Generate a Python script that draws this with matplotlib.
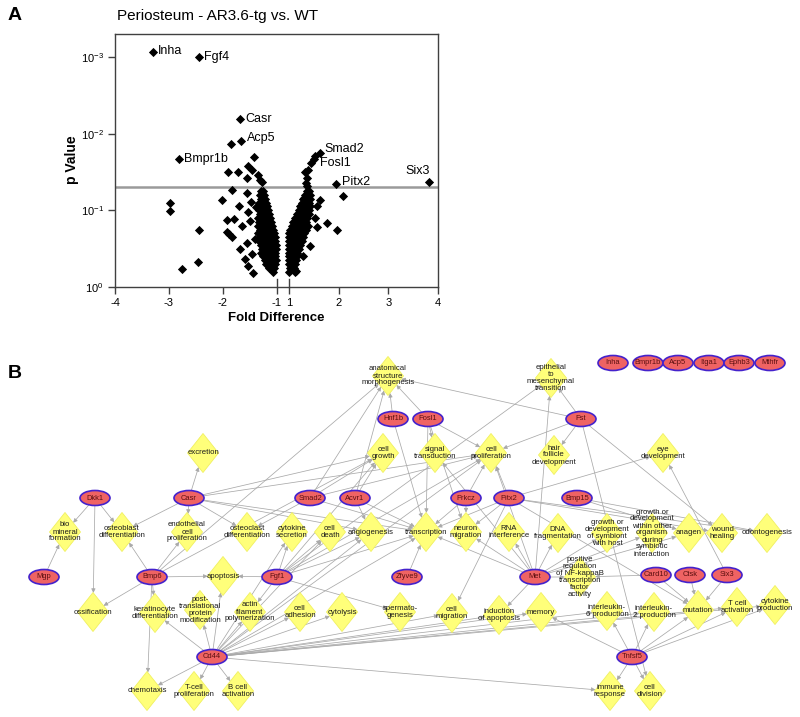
import numpy as np
import matplotlib
matplotlib.use("Agg")
import matplotlib.pyplot as plt
from matplotlib.patches import Ellipse, Polygon, FancyArrowPatch
from matplotlib.ticker import LogFormatterSciNotation, NullLocator

plt.rcParams['font.family'] = ['Liberation Sans', 'DejaVu Sans']
plt.rcParams['mathtext.fontset'] = 'custom'
plt.rcParams['mathtext.rm'] = 'Liberation Sans'
plt.rcParams['mathtext.it'] = 'Liberation Sans:italic'
plt.rcParams['mathtext.bf'] = 'Liberation Sans:bold'

# ---------------- Panel A data ----------------
labeled_genes = ['Inha', 'Fgf4', 'Casr', 'Acp5', 'Bmpr1b', 'Smad2', 'Fosl1', 'Pitx2', 'Six3']
labeled_fd = [-3.29, -2.44, -1.69, -1.67, -2.81, 1.62, 1.50, 1.94, 3.81]
labeled_p = [0.00087, 0.0010, 0.0065, 0.0123, 0.0214, 0.0178, 0.0214, 0.045, 0.043]

scatter_fd = [-1.86, -1.43, -1.53, -1.91, -1.72, -1.47, -1.55, -1.36, -1.32, -1.27,
              -1.84, -1.56, -2.01, -1.70, -1.49, -1.38, -1.53, -1.93, -1.80, -1.65,
              -1.50, -1.88, -1.83, -1.69, -1.59, -1.47, -1.44, -1.53, -1.41, -1.56,
              -2.98, -2.98, -2.44, -2.46, -2.75, -1.92,
              1.32, 1.36, 1.34, 1.39, 1.44, 1.37, 1.52, 1.30, 1.62, 1.56,
              1.52, 1.56, 1.76, 1.96, 1.42, 1.29, 1.15, 2.09]
scatter_p = [0.0135, 0.020, 0.026, 0.032, 0.032, 0.030, 0.038, 0.035, 0.040, 0.043,
             0.055, 0.059, 0.074, 0.087, 0.078, 0.091, 0.105, 0.132, 0.129, 0.162,
             0.138, 0.204, 0.224, 0.324, 0.437, 0.372, 0.661, 0.525, 0.240, 0.263,
             0.081, 0.102, 0.182, 0.468, 0.589, 0.190,
             0.032, 0.038, 0.044, 0.030, 0.024, 0.048, 0.0195, 0.069, 0.074, 0.087,
             0.126, 0.166, 0.145, 0.178, 0.288, 0.389, 0.617, 0.065]

cloud_p = [0.056, 0.063, 0.071, 0.079, 0.089, 0.100, 0.112, 0.126, 0.141, 0.158,
           0.178, 0.200, 0.224, 0.251, 0.282, 0.316, 0.355, 0.398, 0.447, 0.501,
           0.562, 0.630]
left_cloud_fd = [
    [-1.30, -1.26],
    [-1.31, -1.27, -1.24],
    [-1.30, -1.26, -1.22],
    [-1.33, -1.28, -1.24, -1.20],
    [-1.31, -1.27, -1.22, -1.18],
    [-1.34, -1.29, -1.25, -1.21, -1.17],
    [-1.32, -1.28, -1.23, -1.19, -1.15],
    [-1.36, -1.30, -1.26, -1.22, -1.17, -1.13],
    [-1.33, -1.28, -1.24, -1.20, -1.15, -1.11],
    [-1.35, -1.30, -1.26, -1.21, -1.17, -1.13, -1.09],
    [-1.32, -1.27, -1.23, -1.19, -1.14, -1.10, -1.07],
    [-1.36, -1.29, -1.25, -1.21, -1.16, -1.12, -1.08, -1.05],
    [-1.31, -1.27, -1.22, -1.18, -1.14, -1.10, -1.06, -1.03],
    [-1.34, -1.28, -1.24, -1.20, -1.15, -1.11, -1.07, -1.03],
    [-1.30, -1.25, -1.21, -1.17, -1.13, -1.09, -1.05, -1.02],
    [-1.27, -1.23, -1.18, -1.14, -1.10, -1.06, -1.02],
    [-1.29, -1.24, -1.20, -1.15, -1.11, -1.07, -1.03],
    [-1.26, -1.21, -1.16, -1.12, -1.08, -1.04],
    [-1.23, -1.18, -1.13, -1.09, -1.05, -1.02],
    [-1.20, -1.15, -1.10, -1.06, -1.03],
    [-1.14, -1.09, -1.05],
    [-1.08],
]
right_cloud_fd = [
    [1.36, 1.41],
    [1.33, 1.38, 1.43],
    [1.28, 1.33, 1.38, 1.43],
    [1.26, 1.31, 1.36, 1.41],
    [1.23, 1.28, 1.33, 1.38, 1.43],
    [1.20, 1.25, 1.30, 1.35, 1.40],
    [1.16, 1.21, 1.26, 1.31, 1.36, 1.41],
    [1.12, 1.17, 1.22, 1.27, 1.32, 1.37],
    [1.09, 1.14, 1.19, 1.24, 1.29, 1.34],
    [1.06, 1.11, 1.16, 1.21, 1.26, 1.31, 1.38],
    [1.03, 1.08, 1.13, 1.18, 1.23, 1.28, 1.34],
    [1.01, 1.05, 1.10, 1.15, 1.20, 1.25, 1.31],
    [1.00, 1.04, 1.08, 1.13, 1.18, 1.23, 1.28],
    [1.00, 1.03, 1.07, 1.11, 1.16, 1.21, 1.26],
    [1.00, 1.04, 1.08, 1.13, 1.18, 1.23],
    [1.00, 1.03, 1.07, 1.11, 1.16, 1.21],
    [1.00, 1.04, 1.08, 1.12, 1.17],
    [1.00, 1.03, 1.07, 1.11, 1.16],
    [1.01, 1.05, 1.09, 1.14],
    [1.00, 1.04, 1.08, 1.12],
    [1.02, 1.06, 1.10],
    [1.00, 1.12],
]
p_threshold = 0.05
x_ticks = [-4, -3, -2, -1, 1, 2, 3, 4]
y_ticks = [1e-3, 1e-2, 1e-1, 1]

# ---------------- Panel B data ----------------
unlinked_genes = ['Inha', 'Bmpr1b', 'Acp5', 'Itga1', 'Ephb3', 'Mthfr']
genes = ['Hnf1b', 'Fosl1', 'Fst', 'Dkk1', 'Casr', 'Smad2', 'Acvr1', 'Prkcz', 'Pitx2',
         'Bmp15', 'Mgp', 'Bmp6', 'Fgf1', 'Zfyve9', 'Met', 'Card10', 'Ctsk', 'Six3',
         'Cd44', 'Tnfsf5']
functions = {
    'asm': 'anatomical\nstructure\nmorphogenesis',
    'emt': 'epithelial\nto\nmesenchymal\ntransition',
    'cg': 'cell\ngrowth',
    'sig': 'signal\ntransduction',
    'cp': 'cell\nproliferation',
    'hfd': 'hair\nfollicle\ndevelopment',
    'ed': 'eye\ndevelopment',
    'exc': 'excretion',
    'bmf': 'bio\nmineral\nformation',
    'ob': 'osteoblast\ndifferentiation',
    'ecp': 'endothelial\ncell\nproliferation',
    'oc': 'osteoclast\ndifferentiation',
    'cs': 'cytokine\nsecretion',
    'cd': 'cell\ndeath',
    'ang': 'angiogenesis',
    'trans': 'transcription',
    'nm': 'neuron\nmigration',
    'rnai': 'RNA\ninterference',
    'dna': 'DNA\nfragmentation',
    'gds': 'growth or\ndevelopment\nof symbiont\nwith host',
    'gdo': 'growth or\ndevelopment\nwithin other\norganism\nduring\nsymbiotic\ninteraction',
    'anagen': 'anagen',
    'wh': 'wound\nhealing',
    'odo': 'odontogenesis',
    'apop': 'apoptosis',
    'nfkb': 'positive\nregulation\nof NF-kappaB\ntranscription\nfactor\nactivity',
    'oss': 'ossification',
    'kd': 'keratinocyte\ndifferentiation',
    'ptm': 'post-\ntranslational\nprotein\nmodification',
    'afp': 'actin\nfilament\npolymerization',
    'ca': 'cell\nadhesion',
    'cyto': 'cytolysis',
    'sperm': 'spermato-\ngenesis',
    'cm': 'cell\nmigration',
    'ia': 'induction\nof apoptosis',
    'mem': 'memory',
    'il6': 'interleukin-\n6 production',
    'il2': 'interleukin-\n2 production',
    'mut': 'mutation',
    'tca': 'T cell\nactivation',
    'cyp': 'cytokine\nproduction',
    'chemo': 'chemotaxis',
    'tcp': 'T-cell\nproliferation',
    'bca': 'B cell\nactivation',
    'ir': 'immune\nresponse',
    'cdiv': 'cell\ndivision',
}
edges = {
    'Dkk1': ['bmf', 'ob', 'oss'],
    'Mgp': ['bmf'],
    'Casr': ['exc', 'ob', 'oc', 'cg', 'trans', 'ang', 'cp', 'ecp'],
    'Bmp6': ['ob', 'oss', 'kd', 'apop', 'ecp', 'cg', 'asm', 'chemo'],
    'Smad2': ['oc', 'cg', 'asm', 'trans', 'cp'],
    'Acvr1': ['cg', 'trans', 'ang', 'asm'],
    'Hnf1b': ['asm', 'trans'],
    'Fosl1': ['asm', 'sig', 'cp', 'trans', 'nm'],
    'Fst': ['emt', 'asm', 'cp', 'hfd', 'wh', 'cdiv'],
    'Fgf1': ['apop', 'cs', 'cd', 'ang', 'trans', 'sperm', 'cg', 'cp', 'afp', 'emt'],
    'Zfyve9': ['trans'],
    'Prkcz': ['trans', 'nm', 'cp'],
    'Pitx2': ['cp', 'ed', 'nm', 'trans', 'cm', 'mut', 'wh', 'odo'],
    'Bmp15': ['odo', 'anagen'],
    'Met': ['emt', 'cp', 'trans', 'nm', 'rnai', 'dna', 'ia', 'nfkb', 'anagen', 'gds',
            'gdo', 'sig'],
    'Card10': ['nfkb', 'mut'],
    'Ctsk': ['mut'],
    'Six3': ['mut', 'ed'],
    'Cd44': ['chemo', 'tcp', 'bca', 'kd', 'ptm', 'afp', 'ca', 'cyto', 'cm', 'cs', 'cd',
             'ang', 'trans', 'ia', 'mem', 'il6', 'il2', 'tca', 'cyp', 'ir', 'apop', 'cp'],
    'Tnfsf5': ['mem', 'il6', 'il2', 'tca', 'cyp', 'ir', 'cdiv', 'mut'],
}

# ---------------- layout (pixel coordinates of the network) ----------------
gene_pos = {
    'Inha': (613, 363), 'Bmpr1b': (648, 363), 'Acp5': (678, 363), 'Itga1': (709, 363),
    'Ephb3': (739, 363), 'Mthfr': (770, 363),
    'Hnf1b': (393, 419), 'Fosl1': (428, 419), 'Fst': (581, 419),
    'Dkk1': (95, 498), 'Casr': (189, 498), 'Smad2': (310, 498), 'Acvr1': (355, 498),
    'Prkcz': (466, 498), 'Pitx2': (509, 498), 'Bmp15': (577, 498),
    'Mgp': (44, 577), 'Bmp6': (152, 577), 'Fgf1': (277, 577), 'Zfyve9': (407, 577),
    'Met': (535, 577), 'Card10': (656, 575), 'Ctsk': (690, 575), 'Six3': (727, 575),
    'Cd44': (212, 657), 'Tnfsf5': (632, 657),
}
func_pos = {
    'asm': (388, 376), 'emt': (551, 378), 'cg': (383, 453), 'sig': (435, 453),
    'cp': (491, 453), 'hfd': (554, 455), 'ed': (663, 453), 'exc': (203, 453),
    'bmf': (65, 532), 'ob': (122, 532), 'ecp': (187, 532), 'oc': (247, 532),
    'cs': (292, 532), 'cd': (330, 532), 'ang': (371, 532), 'trans': (426, 532),
    'nm': (466, 532), 'rnai': (509, 532), 'dna': (558, 533), 'gds': (607, 533),
    'gdo': (652, 533), 'anagen': (689, 533), 'wh': (722, 533), 'odo': (767, 533),
    'apop': (223, 576), 'nfkb': (580, 577), 'oss': (93, 612), 'kd': (155, 613),
    'ptm': (200, 610), 'afp': (250, 612), 'ca': (300, 612), 'cyto': (342, 612),
    'sperm': (400, 612), 'cm': (452, 613), 'ia': (499, 615), 'mem': (541, 612),
    'il6': (607, 611), 'il2': (654, 612), 'mut': (698, 610), 'tca': (737, 607),
    'cyp': (775, 605), 'chemo': (147, 691), 'tcp': (194, 691), 'bca': (238, 691),
    'ir': (610, 691), 'cdiv': (650, 691),
}
DIA_W, DIA_H = 15.5, 19.5   # half sizes of diamonds (px)
ELL_W, ELL_H = 15.0, 7.5    # half sizes of gene ellipses (px)

fig = plt.figure(figsize=(8.0, 7.17), dpi=100)

# ===================== Panel B (network) =====================
axb = fig.add_axes([0, 0, 1, 1], zorder=0)
axb.set_xlim(0, 800)
axb.set_ylim(717, 0)
axb.axis('off')


def ellipse_edge(cx, cy, dx, dy):
    t = 1.0 / np.sqrt((dx / ELL_W) ** 2 + (dy / ELL_H) ** 2)
    return cx + dx * t, cy + dy * t


def diamond_edge(cx, cy, dx, dy):
    t = 1.0 / (abs(dx) / DIA_W + abs(dy) / DIA_H)
    return cx + dx * t, cy + dy * t


for g, targets in edges.items():
    gx, gy = gene_pos[g]
    for f in targets:
        fx, fy = func_pos[f]
        dx, dy = fx - gx, fy - gy
        sx, sy = ellipse_edge(gx, gy, dx, dy)
        ex, ey = diamond_edge(fx, fy, -dx, -dy)
        arr = FancyArrowPatch((sx, sy), (ex, ey), arrowstyle='-|>', mutation_scale=6,
                              color='#a9a9a9', lw=0.55, shrinkA=0, shrinkB=0, zorder=1)
        axb.add_patch(arr)

for f, label in functions.items():
    x, y = func_pos[f]
    poly = Polygon([(x, y - DIA_H), (x + DIA_W, y), (x, y + DIA_H), (x - DIA_W, y)],
                   closed=True, facecolor='#ffff7a', edgecolor='#f0f060', lw=0.6, zorder=2)
    axb.add_patch(poly)
    axb.text(x, y, label, ha='center', va='center', fontsize=5.6, linespacing=1.0,
             color='#1a1a1a', zorder=3)

for g in genes + unlinked_genes:
    x, y = gene_pos[g]
    axb.add_patch(Ellipse((x, y), 2 * ELL_W, 2 * ELL_H, facecolor='#ef6363',
                          edgecolor='#4422cc', lw=1.2, zorder=4))
    axb.text(x, y, g, ha='center', va='center', fontsize=5.4, color='#5a0f0f', zorder=5)

fig.text(8 / 800, 1 - 373 / 717, 'B', fontsize=14, weight='bold', ha='left', va='center')

# ===================== Panel A (volcano) =====================
ax = fig.add_axes([115 / 800, 1 - 287 / 717, 323 / 800, 253 / 717], zorder=2)


def fwd(x):
    x = np.asarray(x, dtype=float)
    return np.where(x <= -1, 277 + (x + 1) * 54.0,
                    np.where(x >= 1, 289 + (x - 1) * 49.67, 283 + x * 6.0))


def inv(u):
    u = np.asarray(u, dtype=float)
    return np.where(u <= 277, (u - 277) / 54.0 - 1,
                    np.where(u >= 289, (u - 289) / 49.67 + 1, (u - 283) / 6.0))


ax.set_xscale('function', functions=(fwd, inv))
ax.set_yscale('log')

all_fd, all_p = [], []
for pv, row in zip(cloud_p, left_cloud_fd):
    all_fd += row
    all_p += [pv] * len(row)
for pv, row in zip(cloud_p, right_cloud_fd):
    all_fd += row
    all_p += [pv] * len(row)
all_fd += scatter_fd + labeled_fd
all_p += scatter_p + labeled_p

ax.axhline(p_threshold, color='#9a9a9a', lw=1.8, zorder=1)
ax.scatter(all_fd, all_p, marker='D', s=22, color='black', linewidths=0, zorder=3)

offsets = {'Inha': (5, 1, 'left'), 'Fgf4': (5, 0, 'left'), 'Casr': (6, 0, 'left'),
           'Acp5': (6, 3, 'left'), 'Bmpr1b': (5, 0, 'left'), 'Smad2': (5, 4, 'left'),
           'Fosl1': (6, -4, 'left'), 'Pitx2': (6, 2, 'left'), 'Six3': (1, 11, 'right')}
for name, x, p in zip(labeled_genes, labeled_fd, labeled_p):
    dx, dy, ha = offsets[name]
    ax.annotate(name, (x, p), xytext=(dx, dy), textcoords='offset pixels',
                ha=ha, va='center', fontsize=9)

ax.set_xlim(-4, 4)
ax.set_ylim(1, 5.0e-4)
ax.set_xticks(x_ticks)
ax.set_xticklabels([str(t) for t in x_ticks])
ax.set_yticks(y_ticks)
ax.yaxis.set_major_formatter(LogFormatterSciNotation())
ax.yaxis.set_minor_locator(NullLocator())
ax.xaxis.set_minor_locator(NullLocator())
ax.tick_params(axis='both', direction='out', length=5, width=1.0, color='#404040',
               labelsize=8, pad=3)
for s in ax.spines.values():
    s.set_color('#404040')
    s.set_linewidth(1.0)
for xv in (-1, 1):
    ax.plot([xv, xv], [0, 0.03], transform=ax.get_xaxis_transform(), color='#404040',
            lw=1.0, clip_on=False)

fig.text(117 / 800, 1 - 16 / 717, 'Periosteum - AR3.6-tg vs. WT', fontsize=11,
         ha='left', va='center')
fig.text(8 / 800, 1 - 16 / 717, 'A', fontsize=14, weight='bold', ha='left', va='center')
fig.text(72 / 800, 1 - 160 / 717, 'p Value', fontsize=10, weight='bold', rotation=90,
         ha='center', va='center')
fig.text(276 / 800, 1 - 318 / 717, 'Fold Difference', fontsize=9.5, weight='bold',
         ha='center', va='center')

fig.savefig('out.png', dpi=100)
